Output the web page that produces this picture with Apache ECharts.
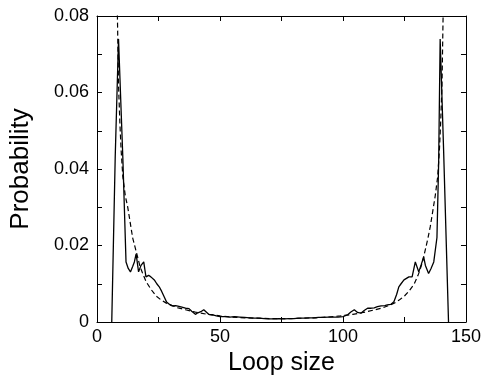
<!DOCTYPE html>
<html>
<head>
<meta charset="utf-8">
<script src="https://cdn.jsdelivr.net/npm/echarts@6/dist/echarts.min.js"></script>
<style>
html,body{margin:0;padding:0;background:#fff;}
#c{width:484px;height:381px;}
</style>
</head>
<body>
<div id="c"></div>
<script>
// Simulation (solid line): loop size and probability
const solidX = [6, 7.4, 8.75, 10.5, 11.8, 12.7, 13.6, 14.5, 15.2, 15.9, 16.9, 17.9, 19, 19.9, 21, 21.9, 23.3, 24.3, 25.3, 26.3, 27.3, 28.3, 29.5, 30.6, 32, 33.3, 34.5, 36, 37.4, 38.5, 40, 41, 42.2, 43.4, 44.2, 45.4, 46.8, 48.5, 50,
  52, 54, 56, 58, 60, 62, 64, 66, 68, 70, 72, 74, 76, 78, 80, 82, 84, 86, 88, 90, 92, 94, 96, 98, 100,
  101.9, 103.2, 104.6, 105.9, 107.3, 108.6, 110, 111.5, 112.7, 114, 115.5, 117, 118, 119.4, 120.7, 121.8, 122.7, 123.6, 124.8, 126.8, 128.1, 129.4, 130.8, 131.8, 132.8, 133.5, 134.8, 135.8, 136.9, 138.2, 138.9, 139.5, 140.9, 142.9];
const solidY = [0, 0.043, 0.074, 0.043, 0.0157, 0.014, 0.0131, 0.0145, 0.0157, 0.0178, 0.0131, 0.0148, 0.0157, 0.0118, 0.0122, 0.0118, 0.011, 0.0100, 0.0092, 0.0080, 0.0066, 0.0052, 0.0046, 0.0042, 0.0043, 0.0041, 0.0039, 0.0036, 0.0035, 0.0028, 0.0020, 0.0024, 0.0027, 0.0032, 0.0030, 0.0020, 0.0019, 0.0016, 0.0014,
  0.0014, 0.0013, 0.0014, 0.0013, 0.0012, 0.0011, 0.0010, 0.0010, 0.0009, 0.0008, 0.0008, 0.0009, 0.0008, 0.0009, 0.0009, 0.0010, 0.0010, 0.0011, 0.0011, 0.0012, 0.0012, 0.0013, 0.0013, 0.0013, 0.0014,
  0.0019, 0.0026, 0.0032, 0.0025, 0.0023, 0.0030, 0.0036, 0.0036, 0.0037, 0.0040, 0.0042, 0.0043, 0.0045, 0.0046, 0.0053, 0.0072, 0.0092, 0.0100, 0.0110, 0.0118, 0.0118, 0.0157, 0.0131, 0.0150, 0.0170, 0.0148, 0.0127, 0.0140, 0.0157, 0.0221, 0.042, 0.074, 0.045, 0];

// Theory (dashed line)
const theoryX = [8.0, 8.3, 8.75, 9.3, 9.8, 10.5, 11.5, 12.5, 13.5, 14.5, 15.5, 16.5, 17.5, 18.5, 20, 22, 24, 26, 28, 30, 33, 36, 40, 45, 50, 55, 60, 65, 70, 74.5,
  79, 84, 89, 94, 99, 104, 109, 113, 116, 119, 121, 123, 125, 127, 129, 130.5, 131.5, 132.5, 133.5, 134.5, 135.5, 136.5, 137.5, 138.5, 139.2, 139.7, 140.25, 140.7, 141];
const theoryY = [0.095, 0.080, 0.062, 0.052, 0.045, 0.038, 0.033, 0.030, 0.026, 0.022, 0.0195, 0.017, 0.0145, 0.0128, 0.0105, 0.0085, 0.0068, 0.0058, 0.0050, 0.0044, 0.0037, 0.0032, 0.0026, 0.0020, 0.0016, 0.0013, 0.0011, 0.0010, 0.0009, 0.0009,
  0.0009, 0.0010, 0.0011, 0.0013, 0.0016, 0.0020, 0.0026, 0.0032, 0.0037, 0.0044, 0.0050, 0.0058, 0.0068, 0.0082, 0.0100, 0.0122, 0.0140, 0.0162, 0.0190, 0.0218, 0.025, 0.029, 0.033, 0.038, 0.045, 0.052, 0.062, 0.080, 0.095];

const xTicks = [0, 50, 100, 150];
const yTicks = ['0', '0.02', '0.04', '0.06', '0.08'];

const FONT = 'Liberation Sans, Arial, Helvetica, sans-serif';
const chart = echarts.init(document.getElementById('c'), null, {renderer: 'canvas'});

const solidData = solidX.map((x, i) => [x, solidY[i]]);
const theoryData = theoryX.map((x, i) => [x, theoryY[i]]);

const baseX = {
  type: 'value', min: 0, max: 150, interval: 25,
  axisLine: {show: true, onZero: false, lineStyle: {color: '#000', width: 1}},
  axisTick: {show: true, inside: true, length: 5, lineStyle: {color: '#000'}},
  splitLine: {show: false}
};
const baseY = {
  type: 'value', min: 0, max: 0.08, interval: 0.01,
  axisLine: {show: true, onZero: false, lineStyle: {color: '#000', width: 1}},
  axisTick: {show: true, inside: true, length: 5, lineStyle: {color: '#000'}},
  splitLine: {show: false}
};

chart.setOption({
  animation: false,
  backgroundColor: '#fff',
  grid: {left: 97, top: 16, right: 15, bottom: 55, containLabel: false, show: false},
  xAxis: [
    Object.assign({}, baseX, {
      position: 'bottom',
      name: 'Loop size', nameLocation: 'middle', nameGap: 29,
      nameTextStyle: {fontFamily: FONT, fontSize: 25, color: '#000'},
      axisLabel: {
        show: true, margin: 6, color: '#000', fontFamily: FONT, fontSize: 18,
        formatter: v => (xTicks.indexOf(Math.round(v)) >= 0 ? String(Math.round(v)) : '')
      }
    }),
    Object.assign({}, baseX, {position: 'top', axisLabel: {show: false}})
  ],
  yAxis: [
    Object.assign({}, baseY, {
      position: 'left',
      name: 'Probability', nameLocation: 'middle', nameGap: 63,
      nameTextStyle: {fontFamily: FONT, fontSize: 26, color: '#000'},
      axisLabel: {
        show: true, margin: 8, color: '#000', fontFamily: FONT, fontSize: 18,
        formatter: v => {
          const k = Math.round(v * 100);
          return k % 2 === 0 ? yTicks[k / 2] : '';
        }
      }
    }),
    Object.assign({}, baseY, {position: 'right', axisLabel: {show: false}})
  ],
  series: [
    {
      type: 'line', data: solidData, xAxisIndex: 0, yAxisIndex: 0,
      showSymbol: false, symbol: 'none', clip: true,
      lineStyle: {color: '#000', width: 1.3, type: 'solid'}
    },
    {
      type: 'line', data: theoryData, xAxisIndex: 0, yAxisIndex: 0,
      showSymbol: false, symbol: 'none', clip: true,
      lineStyle: {color: '#000', width: 1.2, type: [5, 3]}
    }
  ]
});
</script>
</body>
</html>
